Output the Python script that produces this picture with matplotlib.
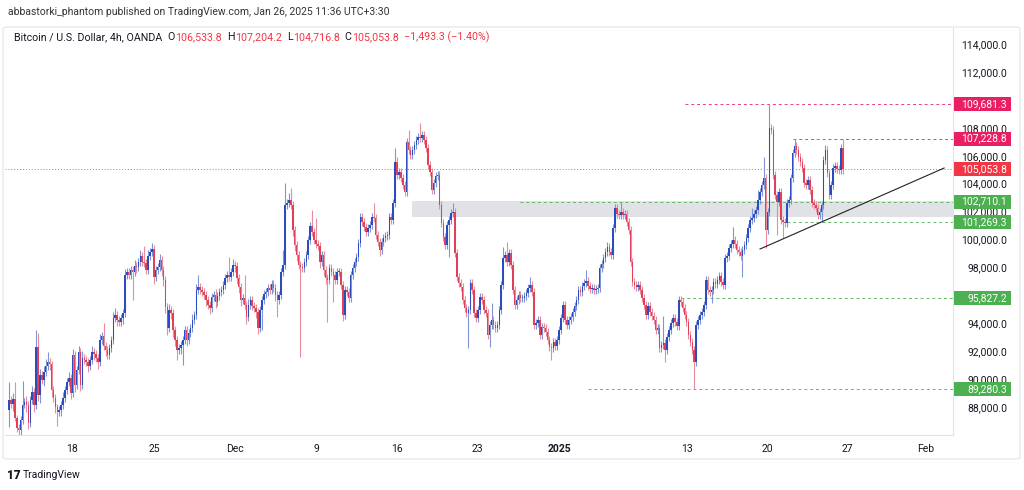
import numpy as np
import matplotlib
matplotlib.use('Agg')
import matplotlib.pyplot as plt
from matplotlib.patches import Rectangle, FancyBboxPatch
from matplotlib.ticker import FuncFormatter

plt.rcParams['font.family'] = ['Roboto', 'DejaVu Sans']

# BTCUSD 4h candles, prices in thousands of USD
first_open = 87.8
closes = [
    88.51, 88.22, 88.58, 87.22, 86.5, 86.36, 87.08, 88.15, 88.37, 88.15,
    86.86, 88.51, 89.08, 88.15, 92.31, 88.87, 90.3, 89.94, 90.52, 90.94,
    91.23, 91.09, 89.23, 88.65, 88.01, 87.65, 87.79, 88.15, 88.65, 89.23,
    89.8, 90.09, 89.01, 91.73, 89.58, 90.66, 91.95, 89.58, 91.52, 91.37,
    91.23, 90.94, 91.37, 91.95, 91.8, 91.52, 91.23, 92.81, 93.09, 92.38,
    92.09, 91.73, 92.23, 92.81, 94.38, 94.6, 94.24, 94.09, 94.38, 94.74,
    97.46, 97.67, 97.46, 97.82, 97.67, 98.1, 98.03, 98.39, 98.82, 98.39,
    98.32, 97.82, 98.82, 99.11, 99.32, 97.32, 97.82, 98.03, 98.53, 97.82,
    97.1, 95.17, 93.67, 94.95, 94.74, 93.52, 92.81, 92.09, 92.23, 92.45,
    92.81, 93.52, 92.81, 93.31, 93.67, 94.24, 94.6, 96.39, 96.6, 96.39,
    96.24, 96.03, 95.67, 95.31, 95.1, 95.88, 96.03, 95.52, 95.96, 96.24,
    96.39, 96.74, 97.25, 97.46, 97.32, 97.67, 98.18, 98.1, 97.25, 96.6,
    95.67, 95.81, 95.31, 94.45, 95.31, 95.67, 95.24, 95.1, 94.81, 93.67,
    94.95, 95.67, 96.1, 96.24, 96.53, 96.39, 96.82, 96.53, 96.03, 95.67,
    96.03, 97.67, 98.18, 102.47, 102.6, 102.83, 102.47, 100.68, 99.61, 98.89,
    98.18, 98.03, 97.96, 98.39, 98.89, 99.97, 100.97, 100.54, 99.97, 99.68,
    99.54, 98.39, 98.89, 97.82, 97.25, 97.1, 97.96, 97.67, 97.46, 97.1,
    97.67, 97.67, 96.74, 94.6, 96.39, 96.24, 95.81, 97.46, 97.96, 98.39,
    98.75, 99.75, 101.61, 101.25, 100.9, 100.54, 100.82, 101.04, 101.61, 101.54,
    100.33, 99.82, 99.25, 99.82, 100.11, 100.25, 100.33, 101.61, 101.4, 102.6,
    105.55, 104.62, 104.83, 104.4, 103.9, 103.4, 106.98, 106.41, 106.05, 106.41,
    106.77, 107.13, 107.34, 107.27, 107.48, 107.13, 106.55, 105.34, 104.83, 103.55,
    104.05, 104.55, 104.62, 102.47, 101.18, 100.18, 99.61, 101.04, 101.4, 101.9,
    101.97, 99.04, 97.32, 96.89, 96.6, 95.67, 95.1, 94.74, 94.95, 96.89,
    96.39, 94.74, 94.38, 94.95, 95.88, 95.67, 94.95, 94.74, 93.16, 93.88,
    94.24, 93.88, 93.67, 93.88, 94.95, 96.74, 98.68, 98.89, 98.39, 99.04,
    98.18, 96.39, 95.31, 95.67, 96.03, 95.81, 95.81, 95.96, 96.17, 96.53,
    96.74, 96.24, 93.88, 94.02, 94.24, 93.16, 93.74, 93.67, 93.38, 92.81,
    92.31, 92.23, 92.66, 92.38, 92.81, 93.52, 94.38, 95.31, 94.24, 93.88,
    94.24, 94.45, 94.81, 95.24, 95.67, 96.39, 96.24, 96.67, 96.89, 97.03,
    96.67, 96.46, 96.53, 96.39, 96.46, 96.53, 97.96, 98.25, 98.68, 99.11,
    99.47, 99.11, 98.89, 100.82, 102.26, 101.83, 101.76, 101.97, 101.76, 101.83,
    101.25, 100.68, 98.39, 96.96, 96.74, 96.6, 96.74, 96.39, 95.81, 95.31,
    94.6, 95.24, 94.81, 94.52, 94.24, 93.52, 93.67, 92.23, 92.45, 92.59,
    92.09, 93.02, 93.52, 94.02, 94.38, 94.09, 93.81, 95.67, 95.52, 95.1,
    94.6, 94.09, 93.16, 92.66, 92.09, 91.23, 93.88, 94.24, 94.6, 94.81,
    95.31, 97.1, 96.39, 96.24, 96.39, 96.96, 96.82, 97.1, 97.39, 96.96,
    96.74, 98.68, 98.82, 99.39, 99.68, 99.97, 99.68, 99.25, 99.11, 98.82,
    99.25, 99.61, 100.11, 100.82, 101.4, 101.54, 101.83, 102.11, 102.83, 103.4,
    103.9, 104.4, 100.68, 101.97, 107.99, 107.84, 104.62, 103.19, 102.68, 103.4,
    101.4, 101.25, 101.18, 102.6, 102.83, 104.4, 106.2, 106.7, 106.41, 105.91,
    105.55, 105.12, 104.05, 103.9, 104.26, 103.55, 102.6, 102.47, 102.26, 101.76,
    101.97, 102.47, 105.69, 106.41, 104.76, 103.19, 103.9, 105.12, 105.26, 105.05,
    105.0, 106.534, 105.054,
]
upper_wick = [
    1.3, .3, .4, 1.2, .2, .3, .3, 1.75, .3, .4,
    .3, .3, .4, .3, 1.2, 1.0, .4, .3, .4, .5,
    .7, .3, .2, .3, .3, .2, .3, .3, .4, .3,
    .3, .4, .3, .4, .3, .3, .4, .3, .5, .3,
    .3, .3, .3, .4, .3, .3, .3, .4, .3, .9,
    .3, .3, .3, .3, .4, .5, .3, .3, .3, .3,
    .4, .3, .3, .3, .3, .4, .3, .3, .4, .3,
    1.15, .3, .4, .3, .43, .3, .3, .3, .4, .3,
    .3, .3, .3, .4, .3, .3, .3, .3, .3, .3,
    .3, .3, .3, .3, .3, .4, .3, .4, .86, .3,
    .3, .3, .3, .3, .3, .3, .3, .4, .3, .3,
    .3, .3, .3, .3, 1.3, .3, .4, .3, .3, .3,
    .3, .3, 1.65, .3, .4, .3, .3, .3, .3, .3,
    .3, .3, .3, .3, .3, .3, .3, .3, .3, .3,
    .3, .3, 1.07, 1.58, .3, .5, .87, .3, .3, .3,
    .3, .3, .3, .3, .3, .3, .3, 1.14, .3, 1.57,
    .3, .3, .3, .3, .3, .3, .3, .3, .3, .3,
    .3, .3, .3, .3, .3, .3, .3, .3, .3, .3,
    .3, .3, .3, .3, .3, .3, .3, .3, .3, 1.0,
    .3, .3, .3, .3, .3, .3, .3, .3, .3, .3,
    1.0, .36, .3, .3, .3, .3, .3, .86, .3, .3,
    .3, .3, .3, 1.0, .3, .3, .3, .3, .3, .3,
    .3, .3, .3, .3, .3, .3, .3, .3, .3, .3,
    .63, .3, .3, .3, .3, .3, .3, .3, .3, .3,
    .3, .3, .3, .3, .3, .3, .3, .3, .3, .3,
    1.2, .3, .3, .3, .3, .3, .8, .3, .9, .3,
    .3, .3, .3, .3, .3, .3, .3, .3, .3, .3,
    .58, .3, .3, .3, .3, .3, .3, .3, .3, .3,
    .3, .3, .3, .3, .3, .3, .3, .3, .3, .3,
    .3, .3, .3, .3, .3, .3, .3, .3, .3, .8,
    .3, .3, .3, .3, .3, .3, .3, .3, .3, .3,
    .35, .3, .3, .3, .3, .3, .3, .72, .3, .3,
    .3, .3, .3, .3, .3, .3, .3, .3, .3, .3,
    .3, .3, .3, .3, .3, .3, .3, .3, .3, 1.9,
    .3, .3, .3, .3, .3, .3, .3, .3, .3, .3,
    .3, .3, .3, .3, .3, .3, .3, .3, .3, .3,
    .3, .3, .3, .3, .3, .3, .3, .3, .3, .3,
    .3, .3, .3, .3, .3, .93, .3, .3, .3, .3,
    .3, .3, .3, .3, .3, .72, .3, .3, .72, .3,
    .3, 1.5, .3, .3, 1.69, .3, .3, .3, .3, .3,
    .3, .3, .3, .3, .3, .3, .3, .53, .3, .3,
    .3, .3, .3, .3, .3, .3, .3, .3, .3, .3,
    .3, .3, .3, .36, .3, .3, .3, .3, .3, .3,
    .3, .3, .67,
]
lower_wick = [
    1.2, .3, .5, .2, .3, .36, .4, .3, .2, .5,
    .4, .3, .3, .5, .3, .4, .6, .3, .4, .3,
    .3, .4, .5, .3, .4, 1.0, .3, .4, .3, .3,
    .3, .3, .4, .3, .5, .3, .3, .4, .3, .3,
    .3, .4, .3, .3, .4, .3, .5, .3, .3, .3,
    .4, .3, .3, .3, .3, .3, .4, .3, .3, .4,
    .3, .3, .3, .3, 2.0, .3, .4, .3, .3, .3,
    .3, .3, .3, .3, .3, .5, .3, .3, .3, .4,
    .4, .4, .5, .3, .4, .5, .4, .7, .3, .4,
    1.4, .3, .4, .3, .3, .3, .3, .3, .3, .3,
    .3, .3, .4, .3, .4, .3, .3, .4, .3, .3,
    .3, .3, .3, .3, .3, .3, .3, .4, .4, .4,
    .4, .3, .3, .5, .3, .3, .3, .3, .4, .4,
    .3, 1.4, .3, .3, .3, .3, .3, .3, .4, 1.2,
    .3, .3, .3, .3, .3, .3, .3, .4, .4, .4,
    .3, 6.44, .3, .3, .3, .3, .3, .3, .3, .3,
    .3, .4, .3, .4, .4, 3.0, .3, .3, 1.9, .3,
    .3, .3, .3, .4, .3, .3, .3, .3, .3, .3,
    .3, .3, .3, .3, .3, .3, .3, .3, .3, .3,
    .3, .3, .4, .3, .3, .3, .3, .3, .3, .3,
    .3, .3, .3, .3, .3, .3, .3, .3, .3, .3,
    .3, .3, .3, .3, .3, .3, .3, .3, .3, .3,
    .3, .3, .3, .3, .3, .3, .3, .3, 2.3, .3,
    .3, .3, .3, .3, .3, .3, .3, .3, 2.5, .3,
    .3, .3, .3, .3, .3, .3, .3, .3, .3, .85,
    .3, .3, .3, .3, .3, .3, .3, .3, .3, .3,
    .3, .3, .3, .3, .3, .3, .3, .3, .3, .3,
    .3, .3, .3, .3, .3, .3, .3, .3, .3, .3,
    .3, .86, .3, .3, .3, .3, .3, .3, .3, .3,
    .3, .3, .3, .3, .3, .3, .3, .3, .3, .3,
    .3, .3, .3, .3, .3, .3, .3, .3, .3, .3,
    .3, .3, .3, .3, .3, .3, .3, .3, .3, .3,
    .3, .3, .3, .3, .3, .3, .3, .3, .3, .3,
    .3, .3, .3, .3, .3, .3, .3, .3, .3, .3,
    .86, .3, .3, .3, .3, .3, .3, .3, .3, .3,
    .3, .3, .3, .3, .3, 1.95, .3, .3, .3, .3,
    .3, .3, .3, .3, .75, .3, .3, .3, .3, .3,
    .3, .3, .3, .3, .3, .3, .3, .3, .3, .3,
    1.5, .3, .3, .3, .3, .3, .3, .3, .3, .3,
    .3, .3, 1.29, .3, .3, .3, .3, .3, 2.35, .3,
    .3, 1.14, .3, .3, .3, .3, .3, .3, .3, .3,
    .3, .3, .3, .3, .3, .3, .3, .3, .3, .3,
    .3, .72, .3, .3, .3, .3, .3, .3, .3, .3,
    .3, .3, .337,
]

# time axis labels (position in candle index)
tick_pos = [32.6, 75.1, 117.1, 159.1, 201.0, 242.5, 285.0, 351.3, 392.7, 434.2, 475.1]
tick_lab = ['18', '25', 'Dec', '9', '16', '23', '2025', '13', '20', '27', 'Feb']

# drawn horizontal levels: price, first candle index, colour
level_price = [109681.3, 107228.8, 102710.1, 101269.3, 95827.2, 89280.3]
level_start = [350, 406, 265, 403, 348, 300]
level_kind = ['pink', 'pink', 'green', 'green', 'green', 'green']
last_price = 105053.8

# grey zone and trend line
zone_start = 209
zone_low, zone_high = 101600, 102760
trend_idx = [389.1, 484.5]
trend_price = [99320, 105120]

UP = '#2a4cc0'
DOWN = '#e0405a'
UP_WICK = '#7f95d4'
DOWN_WICK = '#e98d9c'
PINK = '#e91e63'
RED = '#f23645'
GREEN = '#4caf50'
TXT = '#131722'

W, H = 1024, 490
fig = plt.figure(figsize=(W / 100, H / 100), dpi=100)
ax = fig.add_axes([5 / W, 1 - 435 / H, (953 - 5) / W, (435 - 28) / H])

c = np.array(closes) * 1000
o = np.concatenate([[first_open * 1000], c[:-1]])
hi = np.maximum(o, c) + np.array(upper_wick) * 1000
lo = np.minimum(o, c) - np.array(lower_wick) * 1000
idx = np.arange(len(c))
rising = c >= o

ax.vlines(idx, lo, hi, colors=np.where(rising, UP_WICK, DOWN_WICK), linewidth=0.8, zorder=2)
body = np.maximum(np.abs(c - o), 70)
ax.bar(idx, body, bottom=np.minimum(o, c), width=0.78,
       color=np.where(rising, UP, DOWN), linewidth=0, zorder=3)

xmin, xmax = -2.1, 489.1
ax.set_xlim(xmin, xmax)
ax.set_ylim(86004, 115146)

# zone, trend line, levels
ax.add_patch(Rectangle((zone_start, zone_low), xmax - zone_start, zone_high - zone_low,
                       facecolor='#e0e2e5', edgecolor='none', zorder=1))
ax.plot(trend_idx, trend_price, color='#222222', lw=0.8, zorder=4)
ax.axhline(last_price, color=RED, lw=0.7, ls=(0, (1, 2)), alpha=0.8, zorder=1)
colmap = {'pink': PINK, 'green': GREEN}
for p, s, k in zip(level_price, level_start, level_kind):
    ax.hlines(p, s, xmax, colors=colmap[k], lw=0.7, linestyles=(0, (3, 3)), alpha=0.85, zorder=1)

# axes styling
for side in ['top', 'left']:
    ax.spines[side].set_visible(False)
for side in ['right', 'bottom']:
    ax.spines[side].set_color('#e0e3eb')
    ax.spines[side].set_linewidth(0.8)
ax.yaxis.tick_right()
ax.set_yticks(np.arange(88000, 114001, 2000))
ax.yaxis.set_major_formatter(FuncFormatter(lambda v, _: f'{v:,.1f}'))
ax.tick_params(axis='y', length=0, pad=39, labelsize=7.5, labelcolor=TXT)
for t in ax.get_yticklabels():
    t.set_ha('right')
ax.set_xticks(tick_pos)
ax.set_xticklabels(tick_lab)
ax.tick_params(axis='x', length=0, pad=6.5, labelsize=7.5, labelcolor=TXT)
for t in ax.get_xticklabels():
    if t.get_text() == '2025':
        t.set_fontweight('bold')

# price boxes on the scale
fig.canvas.draw()
to_fig = fig.transFigure.inverted()
box_prices = level_price + [last_price]
box_cols = [colmap[k] for k in level_kind] + [RED]
for p, col in zip(box_prices, box_cols):
    ypx = ax.transData.transform((0, p))[1]
    x0, y0 = to_fig.transform((954, ypx - 7))
    x1, y1 = to_fig.transform((1011, ypx + 7))
    fig.patches.append(Rectangle((x0, y0), x1 - x0, y1 - y0, transform=fig.transFigure,
                                 facecolor=col, edgecolor='none', zorder=5))
    xt, yt = to_fig.transform((1007, ypx))
    fig.text(xt, yt, f'{p:,.1f}', color='white', fontsize=7.5, ha='right', va='center', zorder=6)

# card border
fig.patches.append(FancyBboxPatch((3 / W, 1 - 459 / H), 1017 / W, 432 / H,
                                  boxstyle='round,pad=0,rounding_size=0.004',
                                  transform=fig.transFigure, facecolor='none',
                                  edgecolor='#e0e3eb', lw=0.8, zorder=0))

# header and legend texts
fig.text(8 / W, 1 - 12 / H, 'abbastorki_phantom published on TradingView.com, Jan 26, 2025 11:36 UTC+3:30',
         fontsize=7.5, color='#333333', va='center')

renderer = fig.canvas.get_renderer()
pieces = [('Bitcoin / U.S. Dollar, 4h, OANDA', TXT, 5), ('O', TXT, 0.5), ('106,533.8', RED, 5),
          ('H', TXT, 0.5), ('107,204.2', RED, 5), ('L', TXT, 0.5), ('104,716.8', RED, 5),
          ('C', TXT, 0.5), ('105,053.8', RED, 5), ('\u22121,493.3 (\u22121.40%)', RED, 0)]
xp = 14
for s, col, gap in pieces:
    t = fig.text(xp / W, 1 - 37 / H, s, fontsize=7.7, color=col, va='center')
    bb = t.get_window_extent(renderer)
    xp = bb.x1 + gap

fig.text(7 / W, 1 - 475 / H, '17', fontsize=8.5, fontweight='heavy', color=TXT, va='center')
fig.text(23 / W, 1 - 475 / H, 'TradingView', fontsize=7.5, color=TXT, va='center')

fig.savefig('out.png', dpi=100, facecolor='white')
